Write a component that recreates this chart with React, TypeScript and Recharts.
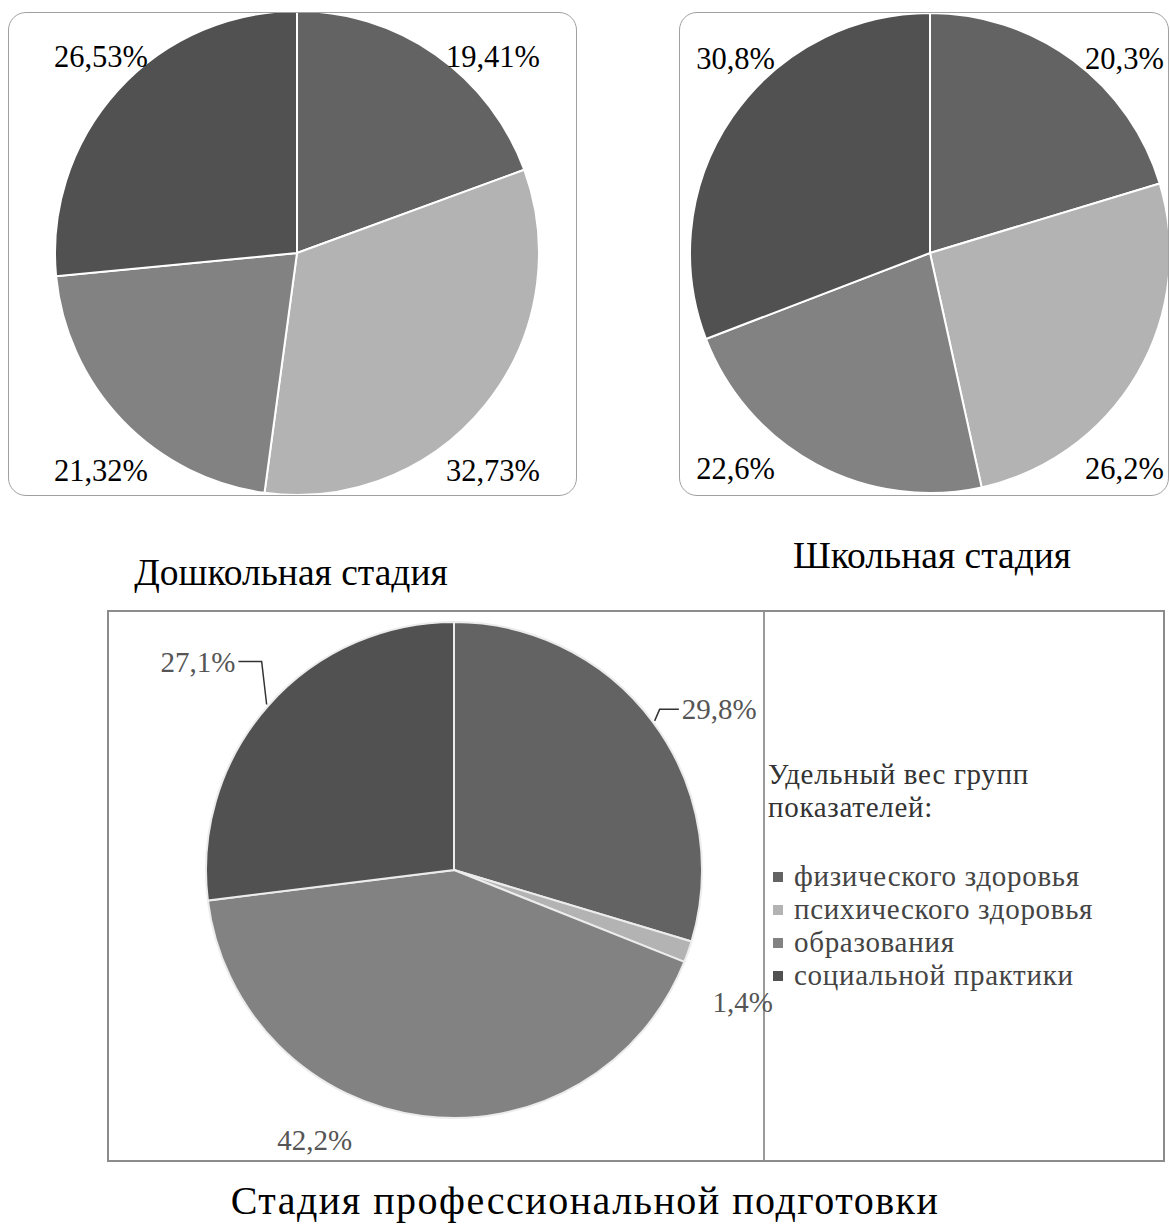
import React from "react";
import { PieChart, Pie, Cell, Legend } from "recharts";

const CATEGORIES = [
  "физического здоровья",
  "психического здоровья",
  "образования",
  "социальной практики",
];

const PRESCHOOL_VALUES = [19.41, 32.73, 21.32, 26.53];
const SCHOOL_VALUES = [20.3, 26.2, 22.6, 30.8];
const PROF_VALUES = [29.8, 1.4, 42.2, 27.1];

const COLORS = ["#636363", "#b3b3b3", "#828282", "#515151"];

// small offsets for the bottom chart's labels (Excel "best fit" placement)
const PROF_LABEL_NUDGES = [
  [-6, 11],
  [-16, 37],
  [-62, -15],
  [0, -18],
];

const SERIF = '"Liberation Serif", "Times New Roman", serif';
const RAD = Math.PI / 180;

const toData = (values: number[]) =>
  CATEGORIES.map((name, i) => ({ name, value: values[i] }));

const fmt = (v: number) => String(v).replace(".", ",") + "%";

// labels pushed toward the corners of each quadrant
function cornerLabel(props: any) {
  const { cx, cy, midAngle, outerRadius, value } = props;
  const right = Math.cos(midAngle * RAD) >= 0;
  const top = Math.sin(midAngle * RAD) > 0;
  const x = cx + (right ? 1 : -1) * 0.81 * outerRadius;
  const y = top ? cy - 0.81 * outerRadius : cy + 0.9 * outerRadius;
  return (
    <text
      x={x}
      y={y}
      textAnchor="middle"
      dominantBaseline="central"
      style={{ fontFamily: SERIF, fontSize: 30.5 }}
      fill="#000"
    >
      {fmt(value)}
    </text>
  );
}

function profLabel(props: any) {
  const { cx, cy, midAngle, outerRadius, value, index } = props;
  const c = Math.cos(midAngle * RAD);
  const s = Math.sin(midAngle * RAD);
  const right = c >= 0;
  const top = s > 0;
  const [nx, ny] = PROF_LABEL_NUDGES[index] || [0, 0];
  const ex = cx + 1.16 * outerRadius * c + nx;
  const ey = cy - 1.16 * outerRadius * s + ny;
  const px = cx + (outerRadius + 2) * c;
  const py = cy - (outerRadius + 2) * s;
  return (
    <g>
      {top && (
        <polyline
          points={`${px},${py} ${px + (right ? 5 : -5)},${ey} ${ex},${ey}`}
          fill="none"
          stroke="#333"
          strokeWidth={1.5}
        />
      )}
      <text
        x={ex + (right ? 3 : -3)}
        y={ey}
        textAnchor={right ? "start" : "end"}
        dominantBaseline="central"
        style={{ fontFamily: SERIF, fontSize: 29 }}
        fill="#555"
      >
        {fmt(value)}
      </text>
    </g>
  );
}

function ProfLegend(props: any) {
  const payload = props.payload || [];
  return (
    <div
      style={{
        fontFamily: SERIF,
        fontSize: 29,
        letterSpacing: 0.7,
        lineHeight: "33px",
        whiteSpace: "nowrap",
      }}
    >
      <div style={{ color: "#333", marginBottom: 36 }}>
        Удельный вес групп
        <br />
        показателей:
      </div>
      {payload.map((entry: any, i: number) => (
        <div
          key={`leg-${i}`}
          style={{ display: "flex", alignItems: "center", color: "#444" }}
        >
          <span
            style={{
              display: "inline-block",
              width: 10,
              height: 10,
              marginLeft: 5,
              marginRight: 11,
              background: entry.color || COLORS[i],
            }}
          />
          {entry.value}
        </div>
      ))}
    </div>
  );
}

function Caption({
  x,
  y,
  text,
  size,
  spacing = 0,
}: {
  x: number;
  y: number;
  text: string;
  size: number;
  spacing?: number;
}) {
  return (
    <div
      style={{
        position: "absolute",
        left: x,
        top: y,
        transform: "translate(-50%, -50%)",
        whiteSpace: "nowrap",
        fontFamily: SERIF,
        fontSize: size,
        letterSpacing: spacing,
        color: "#000",
      }}
    >
      {text}
    </div>
  );
}

function SmallPie({
  values,
  left,
  width,
  cx,
  radius,
}: {
  values: number[];
  left: number;
  width: number;
  cx: number;
  radius: number;
}) {
  const data = toData(values);
  return (
    <div
      style={{
        position: "absolute",
        left,
        top: 12,
        width,
        height: 484,
        border: "1px solid #a0a0a0",
        borderRadius: 18,
        boxSizing: "border-box",
      }}
    >
      <PieChart
        width={width - 2}
        height={482}
        margin={{ top: 0, right: 0, bottom: 0, left: 0 }}
      >
        <Pie
          data={data}
          dataKey="value"
          nameKey="name"
          cx={cx}
          cy={240}
          outerRadius={radius}
          startAngle={90}
          endAngle={-270}
          stroke="#fff"
          strokeWidth={2}
          label={cornerLabel}
          labelLine={false}
          isAnimationActive={false}
        >
          {data.map((entry, i) => (
            <Cell key={`cell-${entry.name}`} fill={COLORS[i]} />
          ))}
        </Pie>
      </PieChart>
    </div>
  );
}

export default function App() {
  const profData = toData(PROF_VALUES);
  return (
    <div
      style={{
        position: "absolute",
        left: 0,
        top: 0,
        width: 1170,
        height: 1225,
        overflow: "hidden",
        background: "#fff",
      }}
    >
      <SmallPie values={PRESCHOOL_VALUES} left={8} width={569} cx={288} radius={242} />
      <SmallPie values={SCHOOL_VALUES} left={679} width={490} cx={250} radius={240} />

      <Caption x={291} y={572} text="Дошкольная стадия" size={37.5} />
      <Caption x={932} y={555} text="Школьная стадия" size={37.5} />

      <div
        style={{
          position: "absolute",
          left: 107,
          top: 610,
          width: 1058,
          height: 552,
          border: "2px solid #8c8c8c",
          boxSizing: "border-box",
        }}
      >
        <div
          style={{
            position: "absolute",
            left: 654,
            top: 0,
            width: 2,
            height: 548,
            background: "#9a9a9a",
          }}
        />
        <PieChart
          width={1054}
          height={548}
          margin={{ top: 0, right: 0, bottom: 0, left: 0 }}
        >
          <Pie
            data={profData}
            dataKey="value"
            nameKey="name"
            cx={345}
            cy={258}
            outerRadius={248}
            startAngle={90}
            endAngle={-270}
            stroke="#ececec"
            strokeWidth={2}
            label={profLabel}
            labelLine={false}
            isAnimationActive={false}
          >
            {profData.map((entry, i) => (
              <Cell key={`pcell-${entry.name}`} fill={COLORS[i]} />
            ))}
          </Pie>
          <Legend
            layout="vertical"
            align="right"
            verticalAlign="top"
            itemSorter={(item: any) => CATEGORIES.indexOf(item.value)}
            content={<ProfLegend />}
            wrapperStyle={{ position: "absolute", left: 659, top: 146, width: 390 }}
          />
        </PieChart>
      </div>

      <Caption
        x={585}
        y={1200}
        text="Стадия профессиональной подготовки"
        size={40}
        spacing={1.5}
      />
    </div>
  );
}
